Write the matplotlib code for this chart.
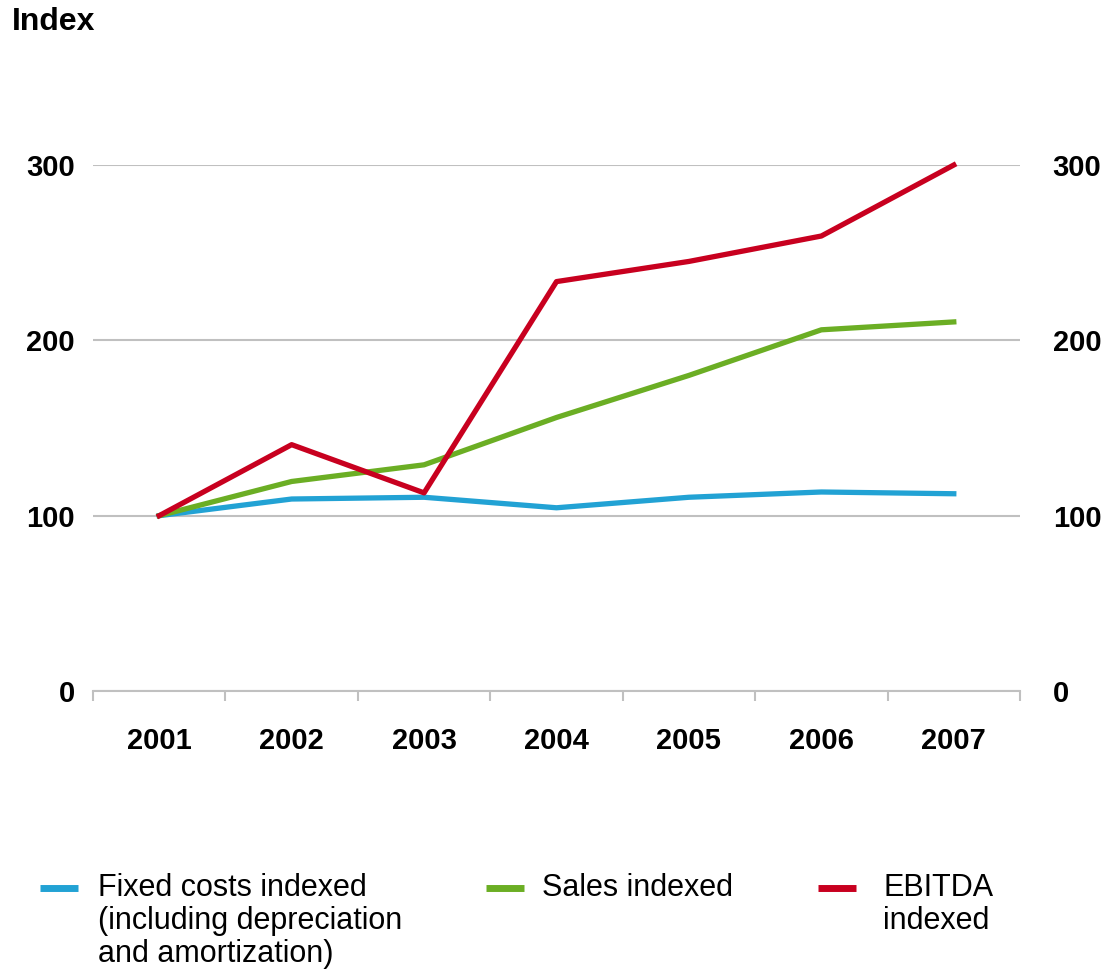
import matplotlib
matplotlib.use("Agg")
import matplotlib.pyplot as plt
from matplotlib.lines import Line2D
import numpy as np

plt.rcParams["font.family"] = ["Liberation Sans", "DejaVu Sans"]

years = ["2001", "2002", "2003", "2004", "2005", "2006", "2007"]
fixed_costs = [100, 109.5, 110.5, 104.5, 110.5, 113.5, 112.5]
sales = [100, 119.5, 129, 156, 180, 206, 210.5]
ebitda = [100, 140.5, 113, 233.5, 245, 259.5, 300]
y_ticks = [0, 100, 200, 300]

series = [
    ("Fixed costs indexed\n(including depreciation\nand amortization)", fixed_costs, "#22a2d4"),
    ("Sales indexed", sales, "#6bae24"),
    ("EBITDA\nindexed", ebitda, "#c8001f"),
]

W, H = 1107, 972
fig = plt.figure(figsize=(W / 100, H / 100), dpi=100)
ax = fig.add_axes([93 / W, 1 - 691 / H, 927 / W, 526 / H])

x = np.arange(len(years))
for label, vals, color in series:
    ax.plot(x, vals, color=color, lw=3.8, clip_on=False, label=label, zorder=3)

ax.set_xlim(-0.5, len(years) - 0.5)
ax.set_ylim(0, 300)
ax.set_yticks(y_ticks)
ax.set_xticks(x)
ax.set_xticklabels(years)
ax.set_xticks(np.arange(len(years) + 1) - 0.5, minor=True)
ax.tick_params(axis="x", which="major", length=0, pad=26, labelsize=21)
ax.tick_params(axis="x", which="minor", length=7, width=1.5, color="#c0c0c0")
ax.tick_params(axis="y", length=0, labelsize=21, pad=13)
for lab in ax.get_xticklabels() + ax.get_yticklabels():
    lab.set_fontweight("bold")

ax_r = ax.twinx()
ax_r.set_ylim(ax.get_ylim())
ax_r.set_yticks(y_ticks)
ax_r.tick_params(axis="y", length=0, labelsize=21, pad=23.5)
for lab in ax_r.get_yticklabels():
    lab.set_fontweight("bold")

ax.grid(True, axis="y", color="#c0c0c0", lw=1.5, zorder=1)
for a in (ax, ax_r):
    for side in ["top", "right", "left"]:
        a.spines[side].set_visible(False)
ax_r.spines["bottom"].set_visible(False)
ax.spines["bottom"].set_color("#c0c0c0")
ax.spines["bottom"].set_linewidth(1.5)

fig.text(12 / W, 1 - 22 / H, "Index", fontsize=23, fontweight="bold",
         ha="left", va="center")

# legend: handle next to first text line, multi-line labels below
legend_x = [(40, 98), (486, 542), (818, 883)]
for (label, _, color), (hx, tx) in zip(series, legend_x):
    fig.add_artist(Line2D([hx / W, (hx + 38) / W], [1 - 888 / H] * 2,
                          color=color, lw=5, solid_capstyle="butt"))
    fig.text(tx / W, 1 - 873 / H, label, fontsize=22, ha="left", va="top",
             linespacing=1.13)

fig.savefig("out.png", dpi=100)
